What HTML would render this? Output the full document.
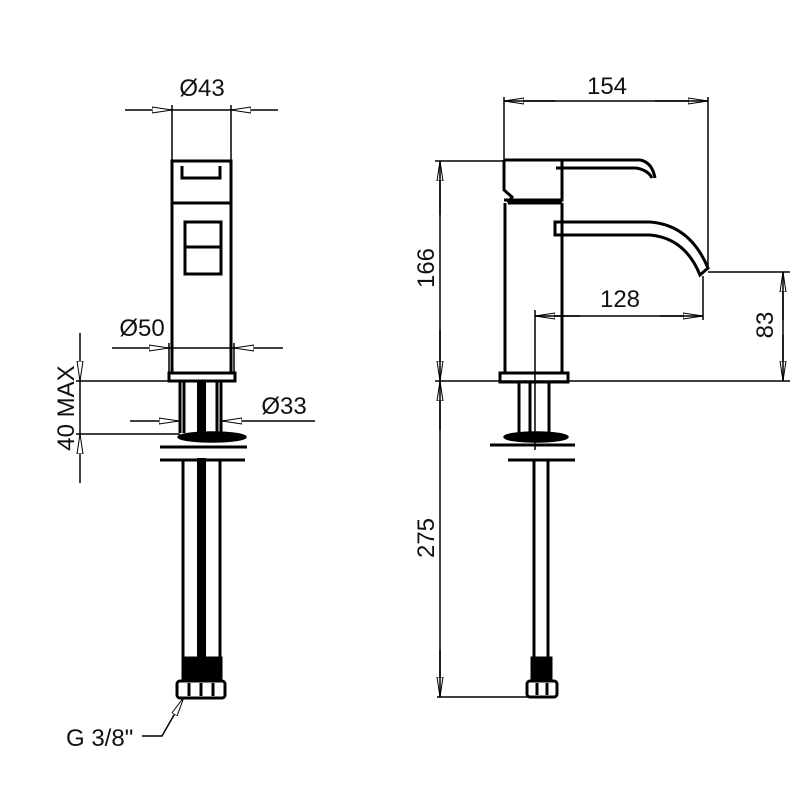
<!DOCTYPE html>
<html><head><style>body{margin:0;background:#fff}svg{display:block}text{font-family:"Liberation Sans",sans-serif;fill:#111}</style></head>
<body>
<svg width="800" height="800" viewBox="0 0 800 800" xmlns="http://www.w3.org/2000/svg">
<defs>
<marker id="a" viewBox="0 0 20 8" refX="20" refY="4" markerWidth="20" markerHeight="8" markerUnits="userSpaceOnUse" orient="auto"><path d="M0,1 L20,4 L0,7 Z" fill="#fff" stroke="#000" stroke-width="1"/></marker>
</defs>
<g stroke="#000" fill="none" stroke-width="1.5">
<line x1="172" y1="105" x2="172" y2="160"/><line x1="231" y1="105" x2="231" y2="160"/>
<line x1="125" y1="110" x2="172" y2="110" marker-end="url(#a)"/>
<line x1="278" y1="110" x2="231" y2="110" marker-end="url(#a)"/>
<line x1="172" y1="110" x2="231" y2="110"/>
<line x1="169" y1="343" x2="169" y2="373"/><line x1="234" y1="343" x2="234" y2="373"/>
<line x1="112" y1="348" x2="169" y2="348" marker-end="url(#a)"/>
<line x1="283" y1="348" x2="234" y2="348" marker-end="url(#a)"/>
<line x1="169" y1="348" x2="234" y2="348"/>
<line x1="130" y1="421" x2="179" y2="421" marker-end="url(#a)"/>
<line x1="315" y1="421" x2="222" y2="421" marker-end="url(#a)"/>
<line x1="80" y1="333" x2="80" y2="381" marker-end="url(#a)"/>
<line x1="80" y1="483" x2="80" y2="434" marker-end="url(#a)"/>
<line x1="80" y1="381" x2="80" y2="434"/>
<line x1="76" y1="381" x2="170" y2="381"/>
<line x1="76" y1="434" x2="180" y2="434"/>
<g stroke-width="3">
<rect x="172" y="161" width="59" height="42"/>
<line x1="172" y1="203" x2="172" y2="373"/><line x1="231" y1="203" x2="231" y2="373"/>
<path d="M182,166 V178 H220 V166"/>
<rect x="185" y="222" width="36" height="52"/>
<line x1="185" y1="247" x2="221" y2="247"/>
<rect x="169" y="373" width="66" height="8"/>
<line x1="180" y1="381" x2="180" y2="433"/><line x1="184" y1="381" x2="184" y2="433"/>
<line x1="217" y1="381" x2="217" y2="433"/><line x1="221" y1="381" x2="221" y2="433"/>
<line x1="183" y1="460" x2="183" y2="660"/><line x1="220" y1="460" x2="220" y2="660"/>
<line x1="160" y1="447" x2="247" y2="447"/>
<line x1="160" y1="460" x2="245" y2="460"/>
<rect x="183" y="658" width="38" height="22" fill="#000"/>
<rect x="177" y="681" width="48" height="17" rx="3"/>
<line x1="189" y1="683" x2="189" y2="696"/><line x1="201" y1="683" x2="201" y2="696"/><line x1="213" y1="683" x2="213" y2="696"/>
</g>
<rect x="197" y="381" width="9" height="60" fill="#000" stroke="none"/>
<rect x="197" y="458" width="9" height="202" fill="#000" stroke="none"/>
<ellipse cx="212" cy="437" rx="34" ry="5" fill="#000"/>
<polyline points="142,736 162,736 178,708"/>
<line x1="178" y1="708" x2="184" y2="697" marker-end="url(#a)"/>

<line x1="504" y1="97" x2="504" y2="160"/><line x1="708" y1="97" x2="708" y2="270"/>
<line x1="555" y1="101" x2="504" y2="101" marker-end="url(#a)"/>
<line x1="655" y1="101" x2="708" y2="101" marker-end="url(#a)"/>
<line x1="504" y1="101" x2="708" y2="101"/>
<line x1="435" y1="161" x2="504" y2="161"/>
<line x1="435" y1="381" x2="790" y2="381"/>
<line x1="440" y1="215" x2="440" y2="161" marker-end="url(#a)"/>
<line x1="440" y1="330" x2="440" y2="381" marker-end="url(#a)"/>
<line x1="440" y1="161" x2="440" y2="381"/>
<line x1="440" y1="430" x2="440" y2="381" marker-end="url(#a)"/>
<line x1="440" y1="650" x2="440" y2="697" marker-end="url(#a)"/>
<line x1="440" y1="381" x2="440" y2="697"/>
<line x1="437" y1="697" x2="528" y2="697"/>
<line x1="708" y1="272" x2="790" y2="272"/>
<line x1="783" y1="320" x2="783" y2="272" marker-end="url(#a)"/>
<line x1="783" y1="335" x2="783" y2="381" marker-end="url(#a)"/>
<line x1="783" y1="272" x2="783" y2="381"/>
<line x1="535" y1="310" x2="535" y2="450"/>
<line x1="703" y1="276" x2="703" y2="320"/>
<line x1="580" y1="316" x2="535" y2="316" marker-end="url(#a)"/>
<line x1="660" y1="316" x2="703" y2="316" marker-end="url(#a)"/>
<line x1="535" y1="316" x2="703" y2="316"/>
<g stroke-width="3">
<path d="M504,160 H640 Q652,162 655,178"/>
<path d="M504,160 V190 L512,197 L508,203"/>
<path d="M556,168 H636 Q648,170 652,178"/>
<path d="M504,200 H562 V160"/>
<path d="M508,203 H562"/>
<line x1="505" y1="203" x2="505" y2="373"/><line x1="562" y1="203" x2="562" y2="373"/>
<path d="M555,222 H650 Q690,225 708,268 L700,275 Q685,238 650,235 H555 Z"/>
<rect x="500" y="373" width="68" height="9"/>
<line x1="519" y1="382" x2="519" y2="433"/><line x1="530" y1="382" x2="530" y2="433"/>
<line x1="549" y1="382" x2="549" y2="433"/>
<line x1="490" y1="445" x2="575" y2="445"/>
<line x1="508" y1="460" x2="575" y2="460"/>
<line x1="534" y1="460" x2="534" y2="660"/><line x1="548" y1="460" x2="548" y2="660"/>
<rect x="532" y="658" width="19" height="22" fill="#000"/>
<rect x="527" y="681" width="30" height="16" rx="3"/>
<line x1="537" y1="683" x2="537" y2="695"/><line x1="547" y1="683" x2="547" y2="695"/>
</g>
<ellipse cx="536" cy="437" rx="32" ry="5" fill="#000"/>
</g>
<g font-size="24">
<text x="202" y="96" text-anchor="middle">Ø43</text>
<text x="142" y="336" text-anchor="middle">Ø50</text>
<text x="284" y="414" text-anchor="middle">Ø33</text>
<text x="607" y="94" text-anchor="middle">154</text>
<text x="620" y="307" text-anchor="middle">128</text>
<text transform="translate(74,408) rotate(-90)" text-anchor="middle">40 MAX</text>
<text transform="translate(434,268) rotate(-90)" text-anchor="middle">166</text>
<text transform="translate(434,538) rotate(-90)" text-anchor="middle">275</text>
<text transform="translate(773,325) rotate(-90)" text-anchor="middle">83</text>
<text x="66" y="746">G 3/8"</text>
</g>
</svg>
</body></html>
